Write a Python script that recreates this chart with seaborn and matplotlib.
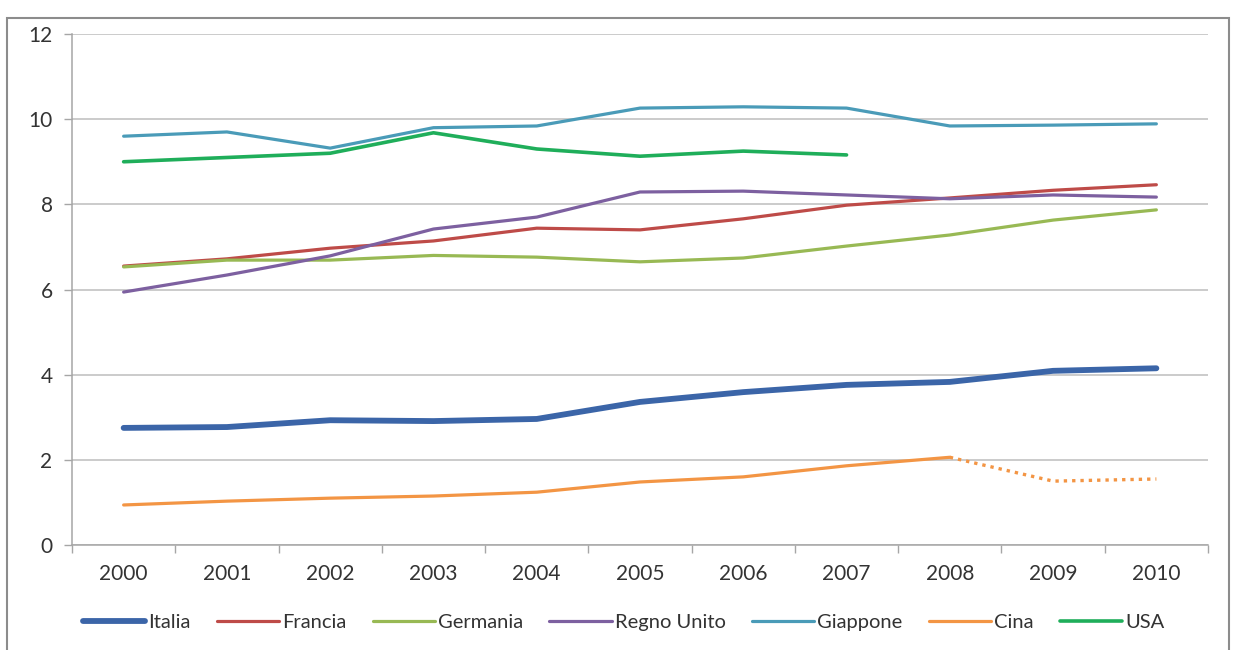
import matplotlib
matplotlib.use("Agg")
import matplotlib.pyplot as plt
from matplotlib.patches import Rectangle
import seaborn as sns
import pandas as pd

anni = ["2000", "2001", "2002", "2003", "2004", "2005", "2006", "2007", "2008", "2009", "2010"]

italia = [2.75, 2.77, 2.93, 2.91, 2.96, 3.36, 3.59, 3.76, 3.83, 4.09, 4.15]
francia = [6.55, 6.72, 6.97, 7.14, 7.44, 7.40, 7.66, 7.98, 8.15, 8.33, 8.46]
germania = [6.53, 6.69, 6.69, 6.80, 6.76, 6.65, 6.74, 7.02, 7.28, 7.63, 7.87]
regno_unito = [5.94, 6.34, 6.79, 7.42, 7.70, 8.29, 8.31, 8.22, 8.13, 8.22, 8.17]
giappone = [9.60, 9.70, 9.32, 9.80, 9.84, 10.26, 10.29, 10.26, 9.84, 9.86, 9.89]
cina = [0.94, 1.03, 1.10, 1.15, 1.24, 1.48, 1.60, 1.86, 2.06, None, None]
cina_stima = [None, None, None, None, None, None, None, None, 2.06, 1.50, 1.55]
usa = [9.00, 9.10, 9.20, 9.68, 9.30, 9.13, 9.25, 9.16, None, None, None]

serie = [
    ("Italia", italia, "#3b65a8", 4.2),
    ("Francia", francia, "#be4b48", 2.3),
    ("Germania", germania, "#98b954", 2.3),
    ("Regno Unito", regno_unito, "#7d60a0", 2.3),
    ("Giappone", giappone, "#4a9bb8", 2.3),
    ("Cina", cina, "#f39544", 2.3),
    ("USA", usa, "#1fae5a", 2.6),
]

sns.set_theme(style="white")
plt.rcParams["font.family"] = ["Lato", "DejaVu Sans"]

fig = plt.figure(figsize=(12.35, 6.5), dpi=100)
ax = fig.add_axes([72 / 1235, 105 / 650, (1208 - 72) / 1235, (545 - 34) / 650])

pos = list(range(len(anni)))
for nome, valori, colore, spessore in serie:
    df = pd.DataFrame({"x": pos, "y": valori}).dropna()
    sns.lineplot(data=df, x="x", y="y", color=colore, linewidth=spessore,
                 label=nome, ax=ax, legend=False)

# tratto stimato della Cina (2008-2010)
df_stima = pd.DataFrame({"x": pos, "y": cina_stima}).dropna()
sns.lineplot(data=df_stima, x="x", y="y", color="#f39544", linewidth=2.4,
             linestyle=(0, (1, 1.5)), ax=ax, legend=False)

ax.set_xlim(-0.5, len(anni) - 0.5)
ax.set_ylim(0, 12)
ax.set_yticks(range(0, 13, 2))
ax.set_xticks(pos)
ax.set_xticklabels(anni)
ax.set_xticks([p + 0.5 for p in pos[:-1]] + [-0.5, len(anni) - 0.5], minor=True)
ax.set_xlabel("")
ax.set_ylabel("")

ax.yaxis.grid(True, color="#bdbdbd", linewidth=1.1)
ax.xaxis.grid(False)
for s in ["top", "right"]:
    ax.spines[s].set_visible(False)
for s in ["left", "bottom"]:
    ax.spines[s].set_color("#a6a6a6")
    ax.spines[s].set_linewidth(1.1)

ax.tick_params(axis="y", which="major", direction="out", length=6, width=1,
               color="#a6a6a6", labelsize=15, labelcolor="#333333", pad=8, left=True)
ax.tick_params(axis="x", which="major", length=0, labelsize=15,
               labelcolor="#333333", pad=14)
ax.tick_params(axis="x", which="minor", direction="out", length=6, width=1,
               color="#a6a6a6", bottom=True)

handles, labels = ax.get_legend_handles_labels()
fig.legend(handles, labels, loc="center", bbox_to_anchor=(0.505, 28 / 650),
           ncol=7, frameon=False, fontsize=14.5, handlelength=3.1,
           handletextpad=0.15, columnspacing=1.3, labelcolor="#333333")

fig.patches.append(Rectangle((7 / 1235, -0.02), (1229 - 7) / 1235, (641 - 9) / 650 + 0.02,
                             transform=fig.transFigure, fill=False,
                             edgecolor="#8c8c8c", linewidth=1.5))

fig.savefig("out.png", dpi=100, facecolor="white")
